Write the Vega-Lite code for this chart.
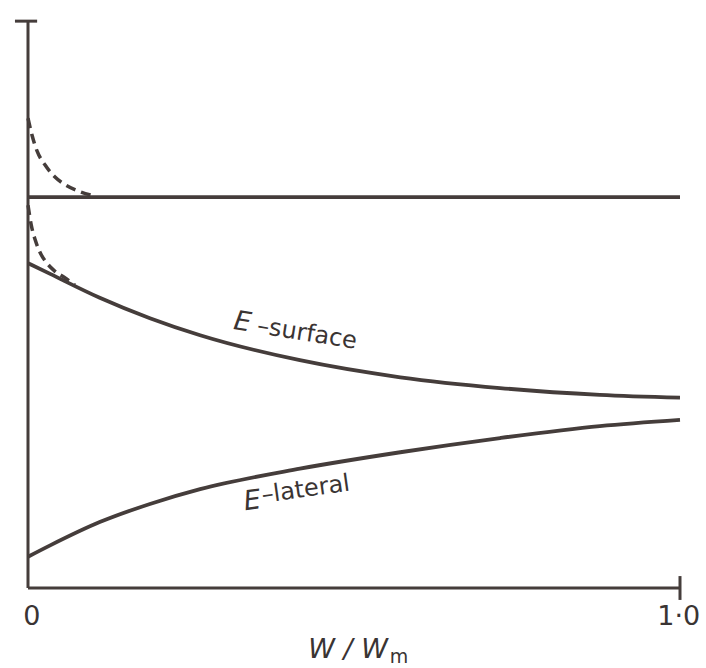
{
  "$schema": "https://vega.github.io/schema/vega-lite/v6.json",
  "width": 652,
  "height": 568,
  "autosize": {"type": "none"},
  "padding": {"left": 28, "top": 20, "right": 26, "bottom": 80},
  "background": "white",
  "config": {"view": {"stroke": null}},
  "datasets": {
    "curves": [
      {"series": "flat", "x": 0, "y": 0.688},
      {"series": "flat", "x": 1, "y": 0.688},
      {"series": "surface", "x": 0, "y": 0.572},
      {"series": "surface", "x": 0.034, "y": 0.553},
      {"series": "surface", "x": 0.110, "y": 0.511},
      {"series": "surface", "x": 0.187, "y": 0.475},
      {"series": "surface", "x": 0.264, "y": 0.445},
      {"series": "surface", "x": 0.417, "y": 0.401},
      {"series": "surface", "x": 0.571, "y": 0.371},
      {"series": "surface", "x": 0.724, "y": 0.352},
      {"series": "surface", "x": 0.877, "y": 0.340},
      {"series": "surface", "x": 1, "y": 0.335},
      {"series": "lateral", "x": 0, "y": 0.055},
      {"series": "lateral", "x": 0.034, "y": 0.075},
      {"series": "lateral", "x": 0.110, "y": 0.116},
      {"series": "lateral", "x": 0.187, "y": 0.148},
      {"series": "lateral", "x": 0.264, "y": 0.174},
      {"series": "lateral", "x": 0.417, "y": 0.210},
      {"series": "lateral", "x": 0.571, "y": 0.239},
      {"series": "lateral", "x": 0.724, "y": 0.264},
      {"series": "lateral", "x": 0.877, "y": 0.285},
      {"series": "lateral", "x": 1, "y": 0.296},
      {"series": "upper dashed", "x": 0, "y": 0.827},
      {"series": "upper dashed", "x": 0.006, "y": 0.798},
      {"series": "upper dashed", "x": 0.014, "y": 0.769},
      {"series": "upper dashed", "x": 0.026, "y": 0.745},
      {"series": "upper dashed", "x": 0.041, "y": 0.724},
      {"series": "upper dashed", "x": 0.057, "y": 0.710},
      {"series": "upper dashed", "x": 0.077, "y": 0.699},
      {"series": "upper dashed", "x": 0.103, "y": 0.690},
      {"series": "lower dashed", "x": 0, "y": 0.674},
      {"series": "lower dashed", "x": 0.005, "y": 0.639},
      {"series": "lower dashed", "x": 0.011, "y": 0.613},
      {"series": "lower dashed", "x": 0.018, "y": 0.592},
      {"series": "lower dashed", "x": 0.029, "y": 0.572},
      {"series": "lower dashed", "x": 0.041, "y": 0.558},
      {"series": "lower dashed", "x": 0.057, "y": 0.546},
      {"series": "lower dashed", "x": 0.072, "y": 0.533}
    ],
    "frame": [
      {"part": "y axis", "x": 0, "y": 0, "x2": 0, "y2": 1},
      {"part": "x axis", "x": 0, "y": 0, "x2": 1, "y2": 0},
      {"part": "end tick", "x": 1, "y": -0.021, "x2": 1, "y2": 0.021},
      {"part": "top cap", "x": -0.02, "y": 0.998, "x2": 0.014, "y2": 0.998}
    ],
    "italicLabels": [
      {"text": "E", "x": 0.314, "y": 0.456, "angle": 9},
      {"text": "E", "x": 0.333, "y": 0.137, "angle": -8}
    ],
    "plainLabels": [
      {"text": "–surface", "x": 0.350, "y": 0.449, "angle": 9},
      {"text": "–lateral", "x": 0.360, "y": 0.150, "angle": -8}
    ],
    "ticks": [
      {"text": "0", "x": 0.006, "y": -0.065},
      {"text": "1·0", "x": 0.998, "y": -0.065}
    ],
    "title": [
      {"text": "W / W", "x": 0.552, "y": -0.123}
    ],
    "subscript": [
      {"text": "m", "x": 0.555, "y": -0.132}
    ]
  },
  "layer": [
    {
      "data": {"name": "frame"},
      "mark": {"type": "rule", "color": "#453d3b", "strokeWidth": 3},
      "encoding": {
        "x": {"field": "x", "type": "quantitative", "scale": {"domain": [0, 1]}, "axis": null},
        "y": {"field": "y", "type": "quantitative", "scale": {"domain": [0, 1]}, "axis": null},
        "x2": {"field": "x2"},
        "y2": {"field": "y2"}
      }
    },
    {
      "data": {"name": "curves"},
      "transform": [{"filter": {"field": "series", "oneOf": ["flat", "surface", "lateral"]}}],
      "mark": {"type": "line", "color": "#453d3b", "strokeWidth": 3.8, "interpolate": "monotone"},
      "encoding": {
        "x": {"field": "x", "type": "quantitative"},
        "y": {"field": "y", "type": "quantitative"},
        "detail": {"field": "series"}
      }
    },
    {
      "data": {"name": "curves"},
      "transform": [{"filter": {"field": "series", "oneOf": ["upper dashed", "lower dashed"]}}],
      "mark": {"type": "line", "color": "#453d3b", "strokeWidth": 3.5, "strokeDash": [10, 6], "interpolate": "monotone"},
      "encoding": {
        "x": {"field": "x", "type": "quantitative"},
        "y": {"field": "y", "type": "quantitative"},
        "detail": {"field": "series"}
      }
    },
    {
      "data": {"name": "italicLabels"},
      "mark": {"type": "text", "font": "DejaVu Sans", "fontSize": 27, "fontStyle": "italic", "align": "left", "baseline": "alphabetic", "color": "#3a3433"},
      "encoding": {
        "x": {"field": "x", "type": "quantitative"},
        "y": {"field": "y", "type": "quantitative"},
        "text": {"field": "text"},
        "angle": {"field": "angle", "type": "quantitative", "scale": null}
      }
    },
    {
      "data": {"name": "plainLabels"},
      "mark": {"type": "text", "font": "DejaVu Sans", "fontSize": 24, "align": "left", "baseline": "alphabetic", "color": "#3a3433"},
      "encoding": {
        "x": {"field": "x", "type": "quantitative"},
        "y": {"field": "y", "type": "quantitative"},
        "text": {"field": "text"},
        "angle": {"field": "angle", "type": "quantitative", "scale": null}
      }
    },
    {
      "data": {"name": "ticks"},
      "mark": {"type": "text", "font": "DejaVu Sans", "fontSize": 27, "align": "center", "baseline": "alphabetic", "color": "#3a3433"},
      "encoding": {
        "x": {"field": "x", "type": "quantitative"},
        "y": {"field": "y", "type": "quantitative"},
        "text": {"field": "text"}
      }
    },
    {
      "data": {"name": "title"},
      "mark": {"type": "text", "font": "DejaVu Sans", "fontSize": 27, "fontStyle": "italic", "align": "right", "baseline": "alphabetic", "color": "#3a3433"},
      "encoding": {
        "x": {"field": "x", "type": "quantitative"},
        "y": {"field": "y", "type": "quantitative"},
        "text": {"field": "text"}
      }
    },
    {
      "data": {"name": "subscript"},
      "mark": {"type": "text", "font": "DejaVu Sans", "fontSize": 19, "align": "left", "baseline": "alphabetic", "color": "#3a3433"},
      "encoding": {
        "x": {"field": "x", "type": "quantitative"},
        "y": {"field": "y", "type": "quantitative"},
        "text": {"field": "text"}
      }
    }
  ]
}
